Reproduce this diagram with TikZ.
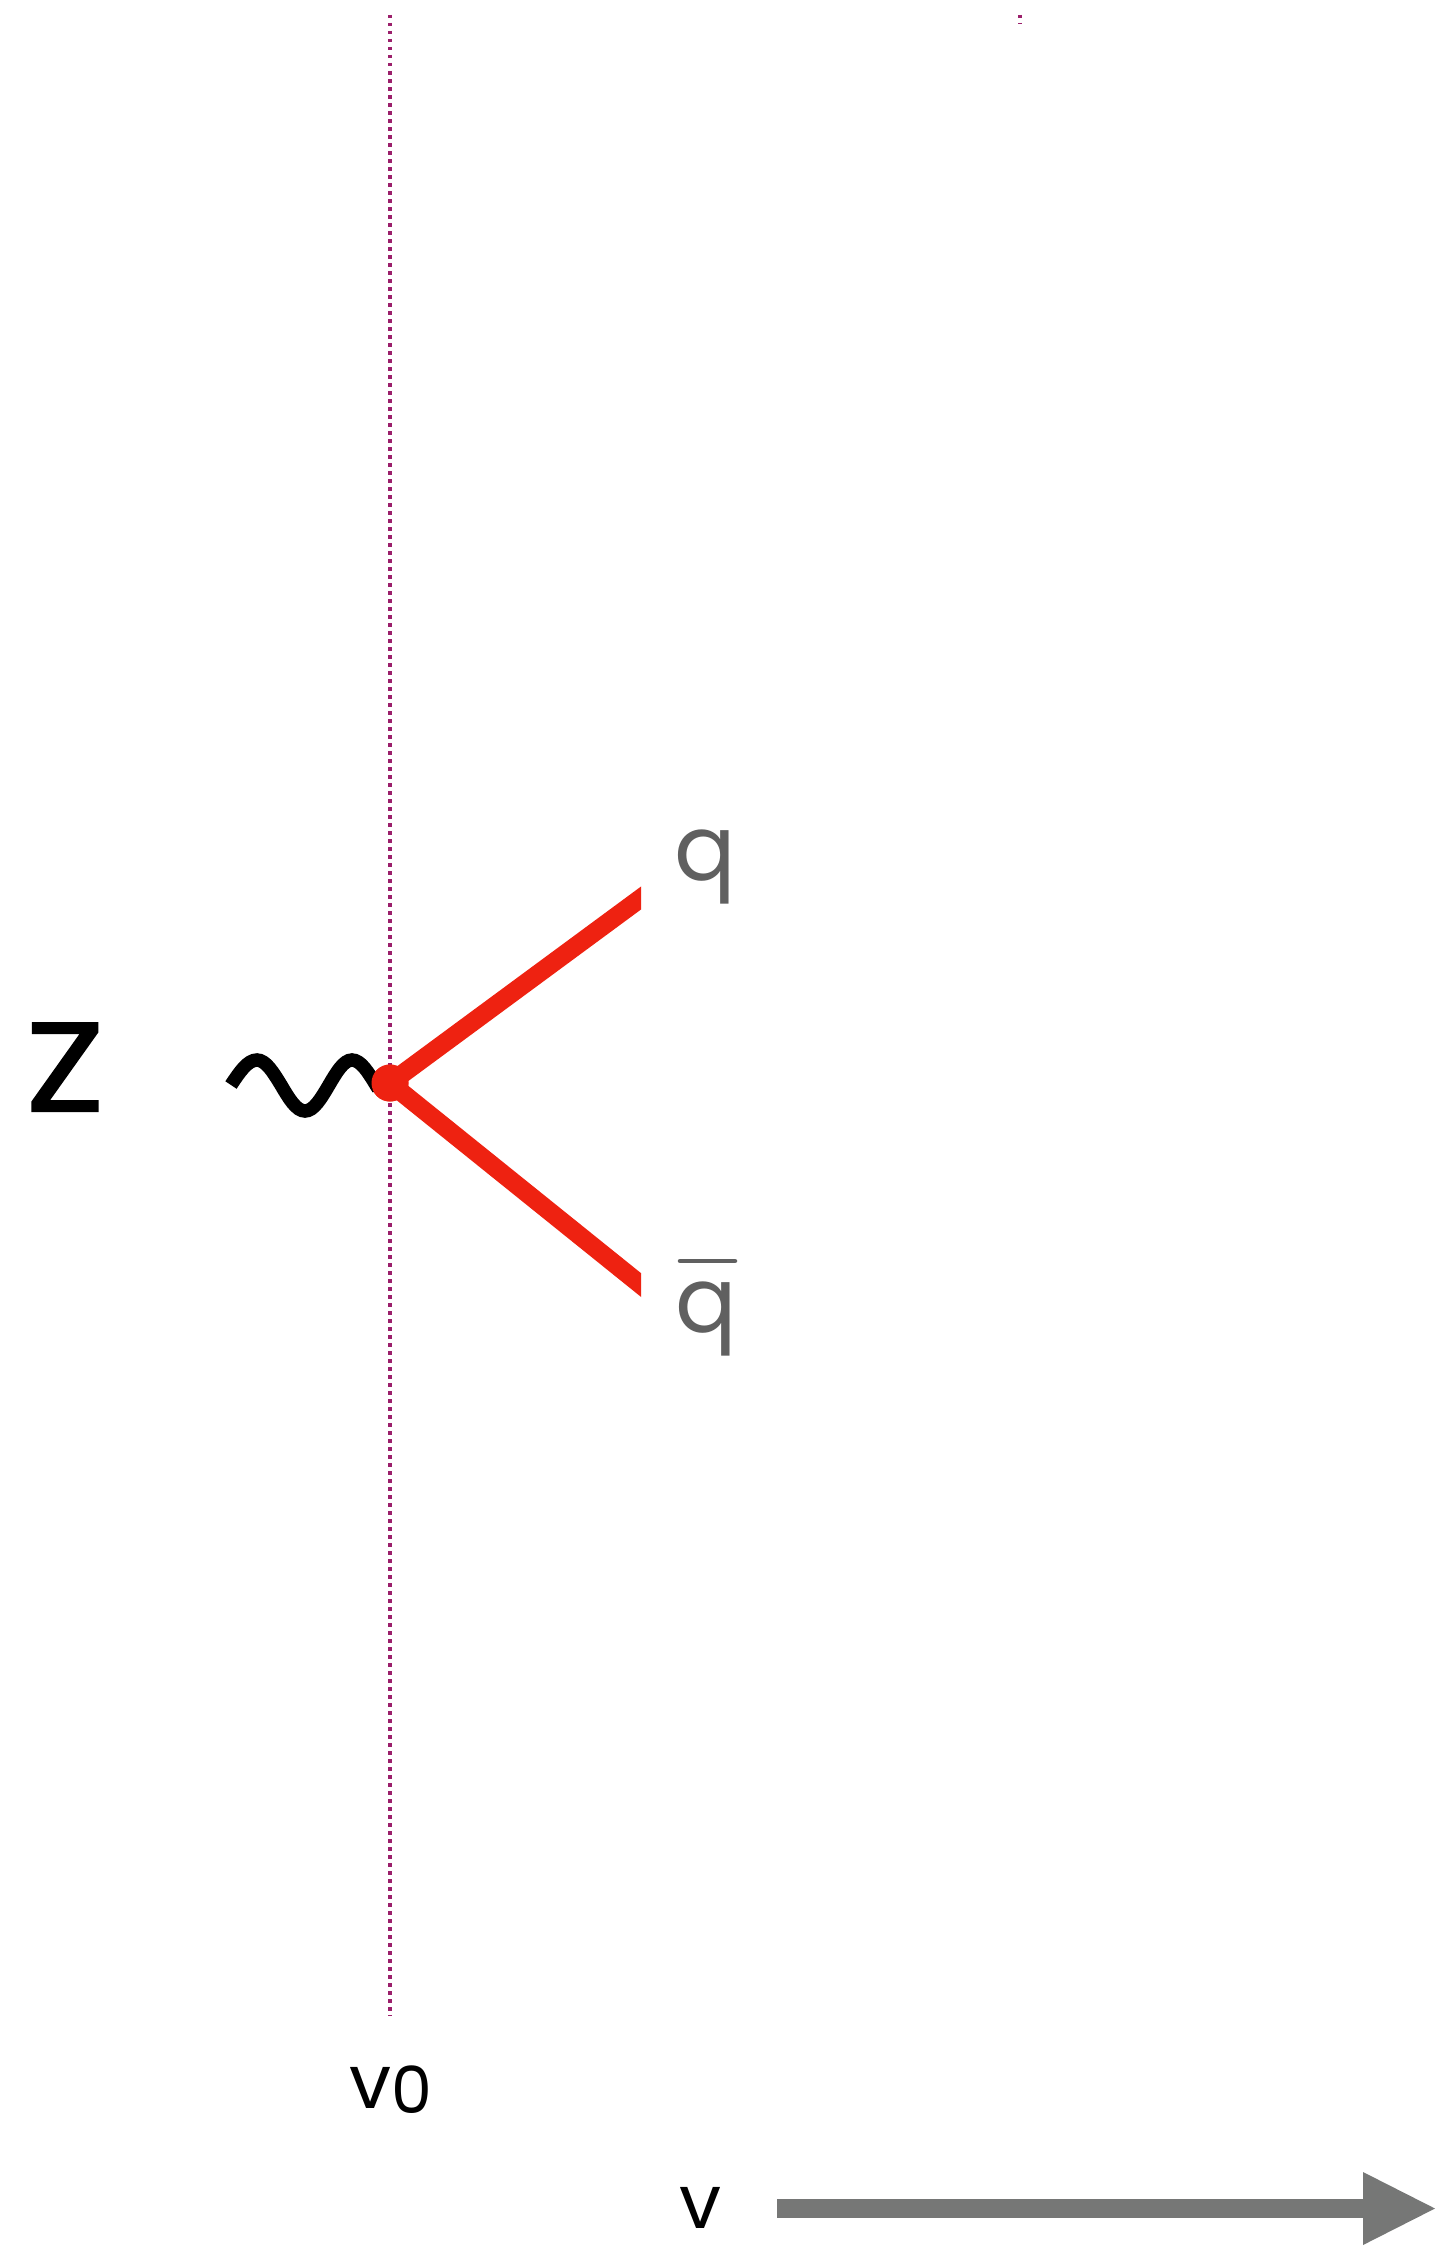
\documentclass[tikz,border=0pt]{standalone}
\usepackage{fontspec}
\setmainfont{Poppins}
\newfontfamily\zpop[FakeBold=1.6]{Poppins}
\usetikzlibrary{arrows.meta,calc}
\definecolor{dotcol}{HTML}{9B1F6B}
\definecolor{quarkred}{HTML}{EE2211}
\definecolor{lblgray}{HTML}{606060}
\definecolor{arrowgray}{HTML}{767776}
\tikzset{
  dotline/.style={dotcol, line width=3.5pt, dash pattern=on 3.5pt off 4.5pt},
  wave/.style={black, line width=13.5pt},
  quark/.style={quarkred, line width=18.5pt},
  vertexdot/.style={circle, fill=quarkred, minimum size=37pt, inner sep=0pt},
  biglbl/.style={inner sep=0pt, anchor=base, font=\zpop\fontsize{126}{126}\selectfont},
  qlbl/.style={inner sep=0pt, anchor=base, text=lblgray, font=\fontsize{91}{91}\selectfont},
  vlbl/.style={inner sep=0pt, anchor=base, font=\fontsize{75}{75}\selectfont},
  axisarrow/.style={arrowgray, line width=19pt, -{Triangle[length=72pt, width=73pt, line width=0pt]}},
  barline/.style={lblgray, line width=4.5pt, line cap=round}
}
\begin{document}
\begin{tikzpicture}[x=1pt, y=-1pt]
\fill[white] (0,0) rectangle (1435,2248);
\useasboundingbox (0,0) rectangle (1435,2248);
% dotted guide lines
\coordinate (dtop) at (390,15);
\coordinate (dbot) at (390,2016);
\draw[dotline] (dtop) -- (dbot);
\coordinate (mtop) at (1020,15);
\coordinate (mbot) at (1020,24);
\draw[dotline] (mtop) -- (mbot);
% Z label and wave
\node[biglbl] (Z) at (65,1111) {\scalebox{1.15}[1]{Z}};
\coordinate (wstart) at (231,1085);
\node[vertexdot] (vtx) at (390,1083) {};
\draw[wave] (wstart) sin ++(26,-25) cos ++(24,25) sin ++(24,26) cos ++(24,-26) sin ++(23,-25) cos ++(24,25) -- (vtx.center);
% quark lines
\coordinate (qend) at (641,898);
\coordinate (qbend) at (641,1285);
\begin{scope}
\clip (0,0) rectangle (641,2248);
\draw[quark] (vtx.center) -- ($(vtx.center)!1.15!(qend)$);
\draw[quark] (vtx.center) -- ($(vtx.center)!1.15!(qbend)$);
\end{scope}
\node[vertexdot] at (vtx.center) {};
% labels
\node[qlbl] (q) at (705,880) {q};
\node[qlbl] (qb) at (706,1332) {q};
\draw[barline] (680,1261) -- (735,1261);
\node[vlbl] (v0) at (391,2108) {v\raisebox{-5pt}{\fontsize{65}{65}\selectfont 0}};
\node[vlbl] (v) at (701,2228) {v};
% axis arrow
\coordinate (astart) at (777,2208.5);
\coordinate (aend) at (1435,2208.5);
\draw[axisarrow] (astart) -- (aend);
\end{tikzpicture}
\end{document}
